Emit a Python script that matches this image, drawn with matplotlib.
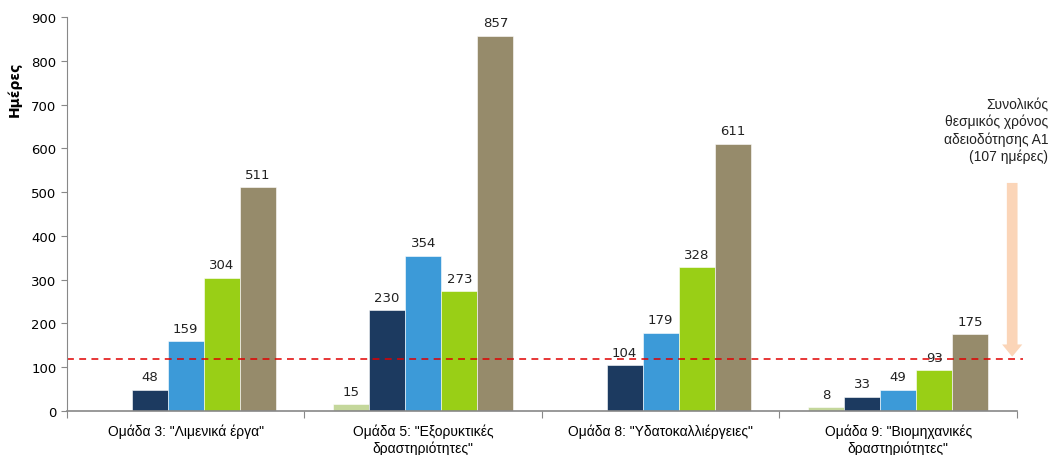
import numpy as np
import matplotlib.pyplot as plt
from matplotlib.patches import FancyArrow

# δεδομενα
categories = ['Ομάδα 3: "Λιμενικά έργα"',
              'Ομάδα 5: "Εξορυκτικές\nδραστηριότητες"',
              'Ομάδα 8: "Υδατοκαλλιέργειες"',
              'Ομάδα 9: "Βιομηχανικές\nδραστηριότητες"']
series_a = [np.nan, 15, np.nan, 8]
series_b = [48, 230, 104, 33]
series_c = [159, 354, 179, 49]
series_d = [304, 273, 328, 93]
series_e = [511, 857, 611, 175]
threshold = 119
arrow_top, arrow_bottom = 521, 124
colors = ['#C4D79B', '#1C3A60', '#3C9AD8', '#99CF16', '#968B6B']

fig = plt.figure(figsize=(10.51, 4.56), dpi=100)
ax = fig.add_axes([0.0637, 0.0965, 0.9039, 0.864])

x = np.arange(len(categories))
w = 0.152
all_series = [series_a, series_b, series_c, series_d, series_e]
for i, (vals, c) in enumerate(zip(all_series, colors)):
    pos = x + (i - 2) * w
    ax.bar(pos, vals, w, color=c, edgecolor='white', linewidth=0.4)
    for p, v in zip(pos, vals):
        if not np.isnan(v):
            ax.text(p, v + 15, '{:d}'.format(int(v)), ha='center', va='bottom',
                    fontsize=9.5, family='DejaVu Sans', color='#222222')

ax.axhline(threshold, xmin=0, xmax=1.006, color='#E00000', linestyle=(0, (4.5, 3.5)),
           linewidth=1.1, clip_on=False)

ax.add_patch(FancyArrow(3.48, arrow_top, 0, arrow_bottom - arrow_top, width=0.045,
                        head_width=0.085, head_length=28, length_includes_head=True,
                        color='#FBD5B8', linewidth=0, clip_on=False))
ax.text(1048 / 1051, 0.785, 'Συνολικός\nθεσμικός χρόνος\nαδειοδότησης Α1\n(107 ημέρες)',
        transform=fig.transFigure, ha='right', va='top', fontsize=10,
        family='Liberation Sans', linespacing=1.25, color='#222222')

ax.set_xlim(-0.5, 3.5)
ax.set_ylim(0, 900)
ax.set_yticks(range(0, 901, 100))
ax.set_xticks(np.arange(-0.5, 4, 1))
ax.set_xticklabels([])
ax.set_xticks(x, minor=True)
ax.set_xticklabels(categories, minor=True, fontsize=10, family='Liberation Sans')
ax.tick_params(axis='x', which='minor', length=0, pad=9)
ax.tick_params(axis='x', which='major', length=5, color='#888888')
ax.tick_params(axis='y', length=4, color='#888888', labelsize=9.5)
for s in ['top', 'right']:
    ax.spines[s].set_visible(False)
for s in ['left', 'bottom']:
    ax.spines[s].set_color('#888888')
ax.spines['bottom'].set_linewidth(1.2)

ax.set_ylabel('Ημέρες', fontweight='bold', fontsize=10, labelpad=8)
ax.yaxis.set_label_coords(-0.048, 0.82)

fig.savefig('out.png', dpi=100)
